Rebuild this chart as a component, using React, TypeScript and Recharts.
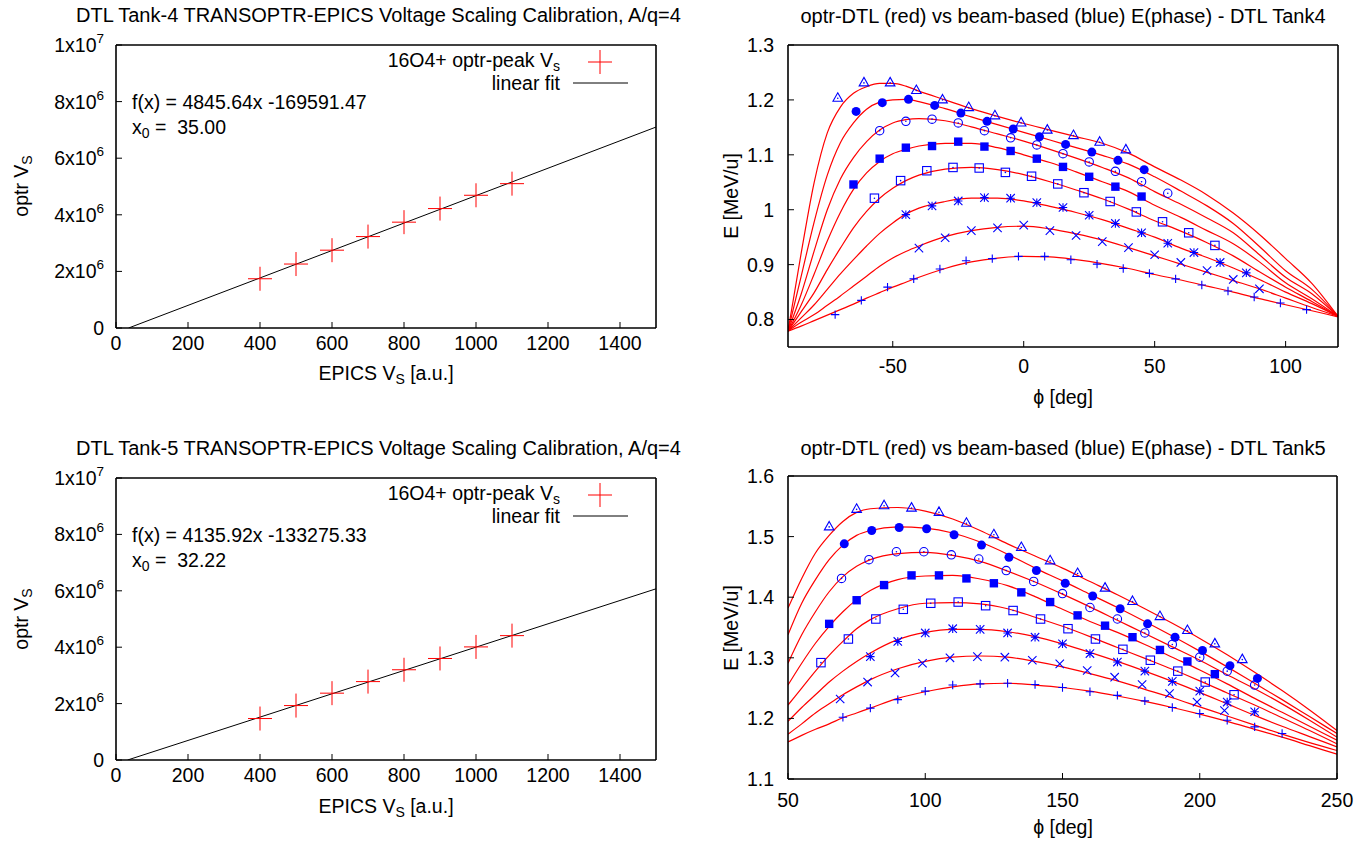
import React from "react";
import { ComposedChart, Line, Scatter, XAxis, YAxis } from "recharts";

const FONT = "'Liberation Sans', Arial, Helvetica, sans-serif";
const RED = "#ff0000";
const BLUE = "#0000ff";
const FS = 19.5;

// voltage scaling calibration, tank 4 / tank 5
const CAL_EPICS = [400, 500, 600, 700, 800, 900, 1000, 1100];
const T4_OPTR = [1.74e6, 2.26e6, 2.75e6, 3.23e6, 3.74e6, 4.22e6, 4.69e6, 5.1e6];
const T5_OPTR = [1.47e6, 1.93e6, 2.37e6, 2.78e6, 3.2e6, 3.6e6, 4.01e6, 4.41e6];
const T4_FIT_X = [35, 1500];
const T4_FIT_Y = [0, 7.1e6];
const T5_FIT_X = [32.22, 1500];
const T5_FIT_Y = [0, 6.07e6];
const CAL_X_TICKS = [0, 200, 400, 600, 800, 1000, 1200, 1400];
const CAL_Y_TICKS = [0, 2e6, 4e6, 6e6, 8e6, 1e7];

// marker kinds, in order from the lowest to the highest set
const KINDS = ["plus", "cross", "star", "osq", "fsq", "ocirc", "fcirc", "tri"];

// E(phase) tank 4: transoptr curves
const T4_GRID = [-90, -85, -80, -75, -70, -65, -60, -55, -50, -45, -40, -30, -20, -10, 0, 10, 20, 30, 40, 50, 60, 70, 80, 90, 100, 110, 120];
const T4_CURVES = [
  [0.779, 0.788, 0.798, 0.808, 0.818, 0.828, 0.839, 0.849, 0.859, 0.868, 0.877, 0.893, 0.905, 0.912, 0.915, 0.914, 0.909, 0.902, 0.893, 0.882, 0.872, 0.861, 0.85, 0.838, 0.827, 0.816, 0.805],
  [0.779, 0.795, 0.809, 0.826, 0.843, 0.861, 0.879, 0.897, 0.912, 0.924, 0.934, 0.951, 0.962, 0.968, 0.97, 0.965, 0.956, 0.945, 0.931, 0.916, 0.901, 0.886, 0.871, 0.856, 0.839, 0.822, 0.806],
  [0.779, 0.803, 0.827, 0.855, 0.883, 0.909, 0.934, 0.957, 0.976, 0.992, 1.003, 1.015, 1.021, 1.021, 1.016, 1.006, 0.995, 0.982, 0.966, 0.95, 0.93, 0.913, 0.894, 0.873, 0.85, 0.829, 0.806],
  [0.779, 0.814, 0.849, 0.891, 0.93, 0.967, 0.997, 1.021, 1.039, 1.053, 1.063, 1.074, 1.077, 1.073, 1.064, 1.051, 1.036, 1.02, 1.001, 0.98, 0.961, 0.94, 0.916, 0.887, 0.859, 0.833, 0.806],
  [0.779, 0.826, 0.883, 0.943, 0.995, 1.037, 1.067, 1.088, 1.102, 1.11, 1.116, 1.121, 1.121, 1.113, 1.1, 1.086, 1.069, 1.051, 1.033, 1.008, 0.986, 0.962, 0.938, 0.905, 0.867, 0.838, 0.806],
  [0.779, 0.846, 0.925, 1.0, 1.056, 1.095, 1.124, 1.145, 1.158, 1.164, 1.166, 1.162, 1.151, 1.138, 1.125, 1.11, 1.094, 1.077, 1.058, 1.033, 1.01, 0.985, 0.958, 0.918, 0.877, 0.847, 0.806],
  [0.779, 0.878, 0.978, 1.063, 1.122, 1.158, 1.183, 1.196, 1.2, 1.201, 1.197, 1.184, 1.169, 1.155, 1.141, 1.127, 1.113, 1.099, 1.083, 1.06, 1.034, 1.007, 0.975, 0.933, 0.889, 0.855, 0.806],
  [0.779, 0.92, 1.05, 1.14, 1.187, 1.212, 1.224, 1.23, 1.23, 1.225, 1.216, 1.2, 1.184, 1.17, 1.157, 1.145, 1.133, 1.121, 1.103, 1.078, 1.054, 1.027, 0.994, 0.955, 0.911, 0.866, 0.806],
];
// E(phase) tank 4: beam-based measurements
const T4_PHI = [
  [-72, -62, -52, -42, -32, -22, -12, -2, 8, 18, 28, 38, 48, 58, 68, 78, 88, 98, 108],
  [-40, -30, -20, -10, 0, 10, 20, 30, 40, 50, 60, 70, 80, 90],
  [-45, -35, -25, -15, -5, 5, 15, 25, 35, 45, 55, 65, 75, 85],
  [-57, -47, -37, -27, -17, -7, 3, 13, 23, 33, 43, 53, 63, 73],
  [-65, -55, -45, -35, -25, -15, -5, 5, 15, 25, 35, 45],
  [-55, -45, -35, -25, -15, -5, 5, 15, 25, 35, 45, 55],
  [-64, -54, -44, -34, -24, -14, -4, 6, 16, 26, 36, 46],
  [-71, -61, -51, -41, -31, -21, -11, -1, 9, 19, 29, 39],
];
const T4_E = [
  [0.809, 0.835, 0.859, 0.874, 0.892, 0.907, 0.911, 0.915, 0.915, 0.909, 0.901, 0.893, 0.884, 0.874, 0.863, 0.852, 0.841, 0.83, 0.818],
  [0.93, 0.949, 0.962, 0.967, 0.972, 0.962, 0.953, 0.942, 0.931, 0.918, 0.904, 0.889, 0.873, 0.856],
  [0.991, 1.007, 1.016, 1.022, 1.021, 1.013, 1.004, 0.99, 0.975, 0.958, 0.939, 0.922, 0.904, 0.885],
  [1.021, 1.053, 1.071, 1.077, 1.076, 1.068, 1.061, 1.047, 1.031, 1.015, 0.996, 0.978, 0.958, 0.935],
  [1.046, 1.093, 1.113, 1.116, 1.124, 1.115, 1.107, 1.093, 1.078, 1.06, 1.042, 1.024],
  [1.144, 1.161, 1.165, 1.158, 1.144, 1.131, 1.118, 1.102, 1.087, 1.07, 1.051, 1.03],
  [1.179, 1.195, 1.201, 1.19, 1.176, 1.161, 1.147, 1.133, 1.119, 1.105, 1.09, 1.073],
  [1.203, 1.231, 1.231, 1.217, 1.2, 1.186, 1.171, 1.158, 1.145, 1.135, 1.123, 1.109],
];

// E(phase) tank 5: transoptr curves
const T5_GRID = [50, 55, 60, 65, 70, 75, 80, 90, 100, 110, 120, 130, 140, 150, 160, 170, 180, 190, 200, 210, 220, 230, 240, 250];
const T5_CURVES = [
  [1.161, 1.172, 1.182, 1.191, 1.201, 1.209, 1.217, 1.233, 1.244, 1.252, 1.257, 1.258, 1.255, 1.251, 1.245, 1.237, 1.228, 1.218, 1.207, 1.195, 1.182, 1.169, 1.155, 1.141],
  [1.174, 1.191, 1.209, 1.224, 1.239, 1.252, 1.264, 1.282, 1.294, 1.301, 1.303, 1.301, 1.294, 1.285, 1.274, 1.262, 1.248, 1.234, 1.219, 1.204, 1.189, 1.174, 1.16, 1.147],
  [1.195, 1.218, 1.239, 1.26, 1.278, 1.294, 1.308, 1.33, 1.342, 1.347, 1.347, 1.343, 1.335, 1.323, 1.309, 1.294, 1.278, 1.261, 1.243, 1.224, 1.205, 1.187, 1.17, 1.153],
  [1.222, 1.25, 1.278, 1.304, 1.327, 1.348, 1.363, 1.381, 1.39, 1.391, 1.389, 1.381, 1.367, 1.352, 1.335, 1.317, 1.299, 1.281, 1.262, 1.242, 1.222, 1.201, 1.18, 1.158],
  [1.255, 1.291, 1.324, 1.352, 1.376, 1.396, 1.411, 1.429, 1.435, 1.436, 1.43, 1.419, 1.401, 1.38, 1.36, 1.342, 1.322, 1.301, 1.28, 1.257, 1.233, 1.21, 1.187, 1.164],
  [1.291, 1.338, 1.376, 1.409, 1.434, 1.451, 1.462, 1.472, 1.474, 1.469, 1.459, 1.443, 1.425, 1.405, 1.384, 1.362, 1.34, 1.318, 1.296, 1.272, 1.249, 1.224, 1.197, 1.169],
  [1.338, 1.39, 1.429, 1.462, 1.486, 1.502, 1.51, 1.516, 1.514, 1.506, 1.491, 1.471, 1.448, 1.427, 1.405, 1.383, 1.36, 1.336, 1.311, 1.285, 1.258, 1.231, 1.203, 1.175],
  [1.382, 1.431, 1.473, 1.502, 1.525, 1.54, 1.546, 1.548, 1.542, 1.529, 1.51, 1.488, 1.468, 1.448, 1.426, 1.404, 1.381, 1.357, 1.332, 1.305, 1.276, 1.246, 1.214, 1.18],
];
// E(phase) tank 5: beam-based measurements
const T5_PHI = [
  [70, 80, 90, 100, 110, 120, 130, 140, 150, 160, 170, 180, 190, 200, 210, 220, 230],
  [69, 79, 89, 99, 109, 119, 129, 139, 149, 159, 169, 179, 189, 199, 209],
  [80, 90, 100, 110, 120, 130, 140, 150, 160, 170, 180, 190, 200, 210, 220],
  [62, 72, 82, 92, 102, 112, 122, 132, 142, 152, 162, 172, 182, 192, 202, 212.5],
  [65, 75, 85, 95, 105, 115, 125, 135, 145.5, 155.5, 165.5, 175.5, 185.5, 195.5, 205.5],
  [69.5, 79.5, 89.5, 99.5, 109.5, 119.5, 129.5, 139.5, 150, 160, 170, 180, 190, 200, 210, 220],
  [70.5, 80.5, 90.5, 100.5, 110.5, 120.5, 130.5, 140.5, 151, 161, 171, 181, 191, 201, 211, 221],
  [65, 75, 85, 95, 105, 115, 125, 135, 145.5, 155.5, 165.5, 175.5, 185.5, 195.5, 205.5, 215.5],
];
const T5_E = [
  [1.202, 1.217, 1.231, 1.245, 1.255, 1.257, 1.258, 1.256, 1.251, 1.244, 1.238, 1.229, 1.218, 1.208, 1.197, 1.186, 1.175],
  [1.232, 1.26, 1.275, 1.291, 1.3, 1.302, 1.301, 1.296, 1.29, 1.279, 1.268, 1.256, 1.241, 1.227, 1.213],
  [1.302, 1.327, 1.341, 1.348, 1.347, 1.341, 1.334, 1.323, 1.307, 1.293, 1.278, 1.261, 1.245, 1.227, 1.211],
  [1.292, 1.331, 1.364, 1.38, 1.39, 1.392, 1.386, 1.378, 1.364, 1.348, 1.331, 1.314, 1.296, 1.278, 1.26, 1.239],
  [1.356, 1.395, 1.42, 1.436, 1.436, 1.431, 1.423, 1.408, 1.392, 1.37, 1.353, 1.334, 1.313, 1.294, 1.273],
  [1.431, 1.462, 1.475, 1.475, 1.47, 1.463, 1.444, 1.426, 1.406, 1.383, 1.364, 1.341, 1.322, 1.301, 1.278, 1.255],
  [1.488, 1.51, 1.515, 1.513, 1.503, 1.486, 1.466, 1.444, 1.423, 1.402, 1.381, 1.356, 1.334, 1.312, 1.287, 1.266],
  [1.516, 1.545, 1.551, 1.547, 1.54, 1.522, 1.503, 1.482, 1.46, 1.439, 1.415, 1.393, 1.368, 1.345, 1.323, 1.297],
];

const T4_X_TICKS = [-50, 0, 50, 100];
const T4_Y_TICKS = [0.8, 0.9, 1, 1.1, 1.2, 1.3];
const T5_X_TICKS = [50, 100, 150, 200, 250];
const T5_Y_TICKS = [1.1, 1.2, 1.3, 1.4, 1.5, 1.6];

const zip = (xs: number[], ys: number[]) => xs.map((x, i) => ({ x, y: ys[i] }));

// gnuplot-like point types
function Mark({ cx, cy, kind }: { cx: number; cy: number; kind: string }) {
  const s = 4.2;
  const p = { stroke: BLUE, strokeWidth: 1.1, fill: "none" };
  const dot = <circle cx={cx} cy={cy} r={0.8} fill={BLUE} />;
  const plus = `M${cx - s},${cy}H${cx + s}M${cx},${cy - s}V${cy + s}`;
  const cross = `M${cx - s},${cy - s}L${cx + s},${cy + s}M${cx - s},${cy + s}L${cx + s},${cy - s}`;
  switch (kind) {
    case "plus":
      return <path d={plus} {...p} />;
    case "cross":
      return <path d={cross} {...p} />;
    case "star":
      return <path d={plus + cross} {...p} />;
    case "osq":
      return (
        <g>
          <rect x={cx - s} y={cy - s} width={2 * s} height={2 * s} {...p} />
          {dot}
        </g>
      );
    case "fsq":
      return <rect x={cx - s} y={cy - s} width={2 * s} height={2 * s} fill={BLUE} />;
    case "ocirc":
      return (
        <g>
          <circle cx={cx} cy={cy} r={s} {...p} />
          {dot}
        </g>
      );
    case "fcirc":
      return <circle cx={cx} cy={cy} r={s + 0.3} fill={BLUE} />;
    default:
      return (
        <g>
          <path d={`M${cx},${cy - 5.5}L${cx + 4.8},${cy + 3}L${cx - 4.8},${cy + 3}Z`} {...p} />
          {dot}
        </g>
      );
  }
}

function BigCross({ cx, cy }: { cx: number; cy: number }) {
  return <path d={`M${cx - 12},${cy}H${cx + 12}M${cx},${cy - 12}V${cy + 12}`} stroke={RED} strokeWidth={1} fill="none" />;
}

function SciTick({ x, y, payload }: any) {
  const v = payload.value as number;
  const st = { fill: "#000", fontSize: FS, fontFamily: FONT };
  if (v === 0) {
    return <text x={x} y={y} dy={7} textAnchor="end" {...st}>0</text>;
  }
  const exp = Math.floor(Math.log10(v) + 1e-9);
  const m = Math.round(v / Math.pow(10, exp));
  return (
    <text x={x} y={y} dy={7} textAnchor="end" {...st}>
      {m}x10<tspan dy={-9} fontSize={13.5}>{exp}</tspan>
    </text>
  );
}

const tickStyle = { fill: "#000", fontSize: FS, fontFamily: FONT };
const border = { stroke: "#000", strokeWidth: 1.6 };
const tickLine = { stroke: "#000", strokeWidth: 1 };

// bordered frame: labelled bottom/left axes, mirrored tick marks on top/right
function frame(o: {
  xDom: [number, number]; xTicks: number[]; yDom: [number, number]; yTicks: number[];
  leftW: number; bottomH: number; xGap: number; yGap: number; yTick?: any;
}) {
  return [
    <XAxis key="xb" xAxisId="b" type="number" dataKey="x" domain={o.xDom} ticks={o.xTicks} interval={0}
      allowDataOverflow height={o.bottomH} tickSize={-6} tickMargin={o.xGap} tick={tickStyle}
      tickLine={tickLine} axisLine={border} />,
    <XAxis key="xt" xAxisId="t" orientation="top" type="number" dataKey="x" domain={o.xDom} ticks={o.xTicks} interval={0}
      allowDataOverflow height={1} tickSize={-6} tick={false} tickLine={tickLine} axisLine={border} />,
    <YAxis key="yl" yAxisId="l" type="number" dataKey="y" domain={o.yDom} ticks={o.yTicks} interval={0}
      allowDataOverflow width={o.leftW} tickSize={-6} tickMargin={o.yGap} tick={o.yTick ?? tickStyle}
      tickLine={tickLine} axisLine={border} />,
    <YAxis key="yr" yAxisId="r" orientation="right" type="number" dataKey="y" domain={o.yDom} ticks={o.yTicks} interval={0}
      allowDataOverflow width={1} tickSize={-6} tick={false} tickLine={tickLine} axisLine={border} />,
  ];
}

function CalPanel({ top, mTop, bottomH, optr, fitX, fitY }: {
  top: number; mTop: number; bottomH: number; optr: number[]; fitX: number[]; fitY: number[];
}) {
  return (
    <div style={{ position: "absolute", left: 0, top }}>
      <ComposedChart width={686} height={423} margin={{ top: mTop, right: 29, bottom: 0, left: 0 }}>
        {frame({ xDom: [0, 1500], xTicks: CAL_X_TICKS, yDom: [0, 1e7], yTicks: CAL_Y_TICKS,
          leftW: 116, bottomH, xGap: 14, yGap: 18, yTick: <SciTick /> })}
        <Line xAxisId="b" yAxisId="l" data={zip(fitX, fitY)} dataKey="y" type="linear" stroke="#000"
          strokeWidth={1} dot={false} isAnimationActive={false} />
        <Scatter xAxisId="b" yAxisId="l" data={zip(CAL_EPICS, optr)} dataKey="y"
          shape={(p: any) => <BigCross cx={p.cx} cy={p.cy} />} isAnimationActive={false} />
      </ComposedChart>
    </div>
  );
}

function PhasePanel({ top, mTop, mRight, bottomH, xGap, grid, curves, phi, e, xDom, xTicks, yDom, yTicks }: {
  top: number; mTop: number; mRight: number; bottomH: number; xGap: number;
  grid: number[]; curves: number[][]; phi: number[][]; e: number[][];
  xDom: [number, number]; xTicks: number[]; yDom: [number, number]; yTicks: number[];
}) {
  return (
    <div style={{ position: "absolute", left: 686, top }}>
      <ComposedChart width={686} height={423} margin={{ top: mTop, right: mRight, bottom: 0, left: 0 }}>
        {frame({ xDom, xTicks, yDom, yTicks, leftW: 102, bottomH, xGap, yGap: 20 })}
        {curves.map((c, i) => (
          <Line key={"c" + i} xAxisId="b" yAxisId="l" data={zip(grid, c)} dataKey="y" type="monotone"
            stroke={RED} strokeWidth={1.2} dot={false} isAnimationActive={false} />
        ))}
        {phi.map((xs, i) => (
          <Scatter key={"s" + i} xAxisId="b" yAxisId="l" data={zip(xs, e[i])} dataKey="y"
            shape={(p: any) => <Mark cx={p.cx} cy={p.cy} kind={KINDS[i]} />} isAnimationActive={false} />
        ))}
      </ComposedChart>
    </div>
  );
}

function T({ x, y, a = "c", size = FS, children }: {
  x: number; y: number; a?: "l" | "c" | "r"; size?: number; children: React.ReactNode;
}) {
  const tx = a === "l" ? "0" : a === "r" ? "-100%" : "-50%";
  return (
    <div style={{
      position: "absolute", left: x, top: y, whiteSpace: "nowrap", fontSize: size, lineHeight: 1,
      transform: `translate(${tx},-50%)`,
    }}>
      {children}
    </div>
  );
}

// subscript that does not grow the line box
const sub = { fontSize: "0.72em", position: "relative", top: "0.3em", lineHeight: 0 } as const;

function RotLabel({ x, y, children }: { x: number; y: number; children: React.ReactNode }) {
  return (
    <div style={{
      position: "absolute", left: x, top: y, whiteSpace: "nowrap", fontSize: FS, lineHeight: 1,
      transform: "translate(-50%,-50%) rotate(-90deg)",
    }}>
      {children}
    </div>
  );
}

function CalText({ dy, fit, x0 }: { dy: number; fit: string; x0: string }) {
  return (
    <>
      <T x={560} y={61 + dy} a="r">16O4+ optr-peak V<span style={sub}>s</span></T>
      <svg style={{ position: "absolute", left: 570, top: 45 + dy }} width={64} height={50}>
        <path d="M18,17H42M30,5V29" stroke={RED} strokeWidth={1} />
        <path d="M3,38H58" stroke="#000" strokeWidth={1} />
      </svg>
      <T x={560} y={84 + dy} a="r">linear fit</T>
      <T x={132} y={103 + dy} a="l">{fit}</T>
      <T x={132} y={128 + dy} a="l">x<span style={sub}>0</span> = &nbsp;{x0}</T>
      <RotLabel x={22} y={186 + dy}>optr V<span style={sub}>S</span></RotLabel>
      <T x={386} y={374 + dy}>EPICS V<span style={sub}>S</span> [a.u.]</T>
    </>
  );
}

export default function App() {
  return (
    <div style={{ position: "absolute", left: 0, top: 0, width: 1372, height: 846, background: "#fff", fontFamily: FONT, color: "#000", overflow: "hidden" }}>
      <CalPanel top={0} mTop={44} bottomH={95} optr={T4_OPTR} fitX={T4_FIT_X} fitY={T4_FIT_Y} />
      <CalPanel top={423} mTop={54} bottomH={86} optr={T5_OPTR} fitX={T5_FIT_X} fitY={T5_FIT_Y} />
      <PhasePanel top={0} mTop={44} mRight={33} bottomH={76} xGap={18} grid={T4_GRID} curves={T4_CURVES}
        phi={T4_PHI} e={T4_E} xDom={[-90, 120]} xTicks={T4_X_TICKS} yDom={[0.75, 1.3]} yTicks={T4_Y_TICKS} />
      <PhasePanel top={423} mTop={52} mRight={34} bottomH={67} xGap={20} grid={T5_GRID} curves={T5_CURVES}
        phi={T5_PHI} e={T5_E} xDom={[50, 250]} xTicks={T5_X_TICKS} yDom={[1.1, 1.6]} yTicks={T5_Y_TICKS} />

      <div style={{ position: "absolute", left: 0, top: 0, width: 686, height: 846, overflow: "hidden" }}>
        <T x={76} y={15} a="l" size={20}>DTL Tank-4 TRANSOPTR-EPICS Voltage Scaling Calibration, A/q=4</T>
        <T x={76} y={448} a="l" size={20}>DTL Tank-5 TRANSOPTR-EPICS Voltage Scaling Calibration, A/q=4</T>
      </div>
      <CalText dy={0} fit="f(x) = 4845.64x -169591.47" x0="35.00" />
      <CalText dy={433} fit="f(x) = 4135.92x -133275.33" x0="32.22" />

      <T x={1063} y={16} size={20}>optr-DTL (red) vs beam-based (blue) E(phase) - DTL Tank4</T>
      <T x={1063} y={448} size={20}>optr-DTL (red) vs beam-based (blue) E(phase) - DTL Tank5</T>
      <RotLabel x={732} y={196}>E [MeV/u]</RotLabel>
      <RotLabel x={732} y={628}>E [MeV/u]</RotLabel>
      <T x={1063} y={398}>ϕ [deg]</T>
      <T x={1063} y={828}>ϕ [deg]</T>
    </div>
  );
}
